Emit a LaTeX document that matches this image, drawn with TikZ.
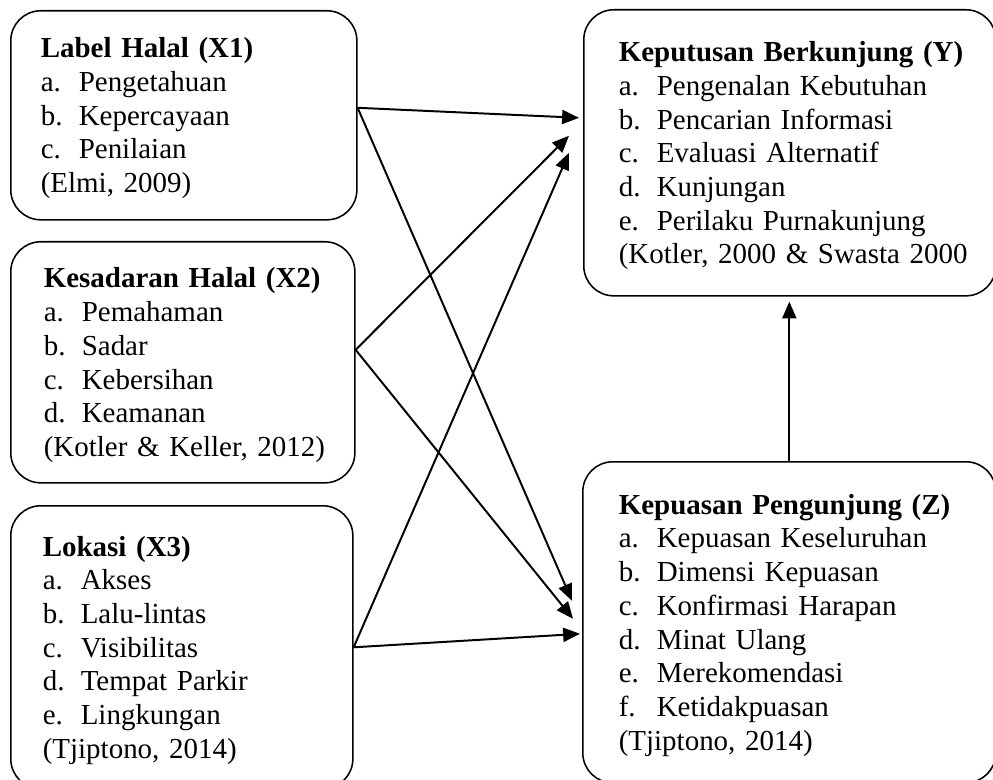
\documentclass[tikz,border=0pt]{standalone}
\usepackage{fontspec}
\setmainfont{Liberation Serif}
\usepackage{tikz}
\usetikzlibrary{arrows.meta,positioning,calc}
\newcommand{\itm}[2]{\makebox[0.95cm][l]{#1}#2}
\newcommand{\tstrut}{\rule{0pt}{0.65cm}}
\tikzset{
    % Variable box style
    varbox/.style={
        draw=black,
        line width=1.1pt,
        rounded corners=0.75cm,
        anchor=north west,
        align=left,
        inner xsep=0pt,
        font=\fontsize{20.6pt}{23.97pt}\selectfont
    },
    % Arrow style (straight lines only)
    myarrow/.style={
        -{Triangle[length=12pt,width=10pt]},
        line width=1.4pt,
        draw=black
    }
}
\begin{document}
\begin{tikzpicture}[x=0.025cm,y=-0.025cm]
        \useasboundingbox (0,0) rectangle (993,780);
        \clip (0,0) rectangle (993,780);

        % Independent variables
        \node[varbox, minimum width=8.65cm, minimum height=5.225cm, text width=7.15cm] (x1) at (10,10)
            {\tstrut\textbf{Label Halal (X1)}\\ \itm{a.}{Pengetahuan}\\ \itm{b.}{Kepercayaan}\\ \itm{c.}{Penilaian}\\ (Elmi, 2009)};
        \node[varbox, minimum width=8.6cm, minimum height=6.025cm, text width=6.95cm] (x2) at (10,241)
            {\tstrut\textbf{Kesadaran Halal (X2)}\\ \itm{a.}{Pemahaman}\\ \itm{b.}{Sadar}\\ \itm{c.}{Kebersihan}\\ \itm{d.}{Keamanan}\\ \mbox{(Kotler \& Keller, 2012)}};
        \node[varbox, minimum width=8.55cm, minimum height=7.075cm, text width=6.95cm] (x3) at (10,505)
            {\tstrut\textbf{Lokasi (X3)}\\ \itm{a.}{Akses}\\ \itm{b.}{Lalu-lintas}\\ \itm{c.}{Visibilitas}\\ \itm{d.}{Tempat Parkir}\\ \itm{e.}{Lingkungan}\\ (Tjiptono, 2014)};

        % Dependent and intervening variables
        \node[varbox, minimum width=10.3cm, minimum height=7.15cm, text width=8.55cm] (y) at (583,9)
            {\tstrut\mbox{\textbf{Keputusan Berkunjung (Y)}}\\ \itm{a.}{Pengenalan Kebutuhan}\\ \itm{b.}{Pencarian Informasi}\\ \itm{c.}{Evaluasi Alternatif}\\ \itm{d.}{Kunjungan}\\ \itm{e.}{Perilaku Purnakunjung}\\ \mbox{(Kotler, 2000 \& Swasta 2000}};
        \node[varbox, minimum width=10.325cm, minimum height=8.025cm, text width=8.525cm] (z) at (582,461)
            {\tstrut\mbox{\textbf{Kepuasan Pengunjung (Z)}}\\ \itm{a.}{Kepuasan Keseluruhan}\\ \itm{b.}{Dimensi Kepuasan}\\ \itm{c.}{Konfirmasi Harapan}\\ \itm{d.}{Minat Ulang}\\ \itm{e.}{Merekomendasi}\\ \itm{f.}{Ketidakpuasan}\\ (Tjiptono, 2014)};

        % Arrows
        \draw[myarrow] ($(x1.east)+(0,-7.5)$) -- ($(y.west)+(-4,-35)$);
        \draw[myarrow] ($(x1.east)+(0,-7.5)$) -- ($(z.west)+(-10,-21.5)$);
        \draw[myarrow] ($(x2.east)+(0,-12.5)$) -- ($(y.west)+(-14,-17)$);
        \draw[myarrow] ($(x2.east)+(0,-12.5)$) -- ($(z.west)+(-9,-3.5)$);
        \draw[myarrow] (x3.east) -- ($(y.west)+(-14,0)$);
        \draw[myarrow] (x3.east) -- ($(z.west)+(-2,11.5)$);
        \draw[myarrow] (z.north) -- ($(z.north |- y.south)+(0,5)$);
    \end{tikzpicture}
\end{document}
